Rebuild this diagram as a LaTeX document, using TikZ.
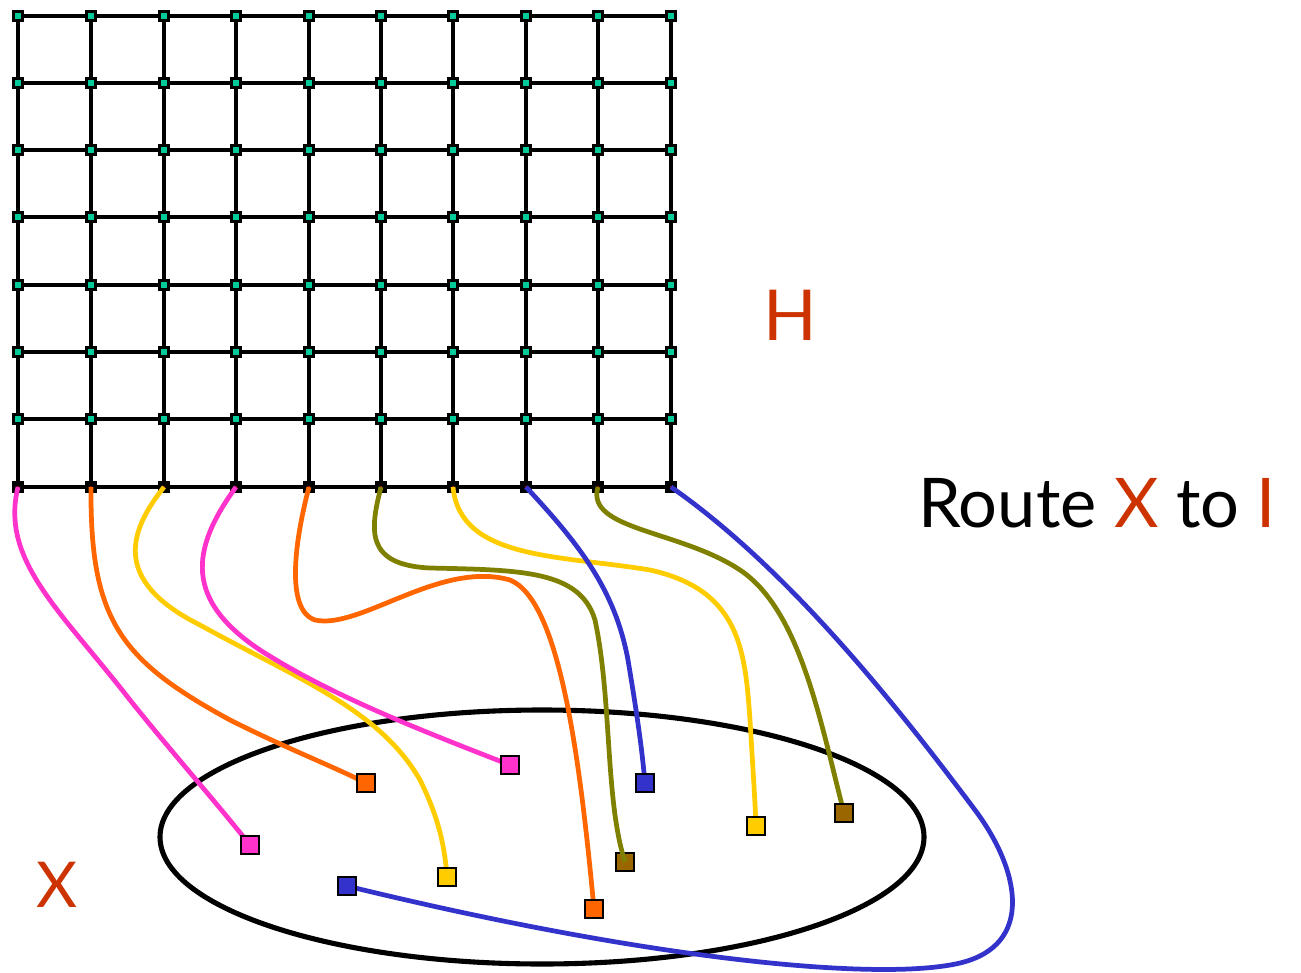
\documentclass[tikz,border=0pt]{standalone}
\usepackage{fontspec}
\setmainfont{Lato}
\definecolor{vtxfill}{HTML}{00CC99}
\definecolor{lblred}{HTML}{CC3300}
\definecolor{wpink}{HTML}{FF33CC}
\definecolor{worange}{HTML}{FF6600}
\definecolor{wyellow}{HTML}{FFCC00}
\definecolor{wolive}{HTML}{808000}
\definecolor{wblue}{HTML}{3333CC}
\definecolor{tbrown}{HTML}{996600}
\tikzset{
  gridline/.style={line width=2.1pt, black},
  vtx/.style={draw=black, line width=1.8pt, fill=vtxfill, inner sep=0pt, minimum size=0.19cm},
  port/.style={draw=black, line width=1.8pt, fill=black, inner sep=0pt, minimum size=0.19cm},
  wire/.style={line width=2.7pt},
  term/.style={draw=black, line width=1.2pt, inner sep=0pt, minimum size=0.36cm},
  lbl/.style={text=lblred, font=\fontsize{40}{40}\selectfont},
}
\begin{document}
\begin{tikzpicture}[x=0.02cm,y=-0.02cm]
\useasboundingbox (0,0) rectangle (1301,973);

% grid positions
\foreach \x [count=\i] in {18,91,164,236,309,381,453,526,598,671}
  \foreach \y [count=\j] in {16,83,150,217,285,352,419,487}
    \coordinate (p-\i-\j) at (\x,\y);

% grid edges
\foreach \i in {1,...,10} \draw[gridline] (p-\i-1) -- (p-\i-8);
\foreach \j in {1,...,8} \draw[gridline] (p-1-\j) -- (p-10-\j);

% grid vertices
\foreach \i in {1,...,10}
  \foreach \j in {1,...,7}
    \node[vtx] (g-\i-\j) at (p-\i-\j) {};
\foreach \i in {1,...,10} {
  \node[port] (g-\i-8) at (p-\i-8) {};
  \fill[red] (g-\i-8.center) circle (0.02cm);
}

% the set X
\draw[line width=2.9pt] (542,837) ellipse [x radius=382, y radius=127];

% routing paths
\draw[wire, wpink] (g-1-8.center) .. controls (0,560) and (60,610) .. (130,700)
  .. controls (170,750) and (210,795) .. (250,845) coordinate (e1);
\draw[wire, worange] (g-2-8.center) .. controls (90,620) and (120,660) .. (230,720)
  .. controls (290,750) and (330,765) .. (366,783) coordinate (e2);
\draw[wire, wyellow] (g-3-8.center) .. controls (130,530) and (110,580) .. (200,625)
  .. controls (300,680) and (380,710) .. (420,780) .. controls (440,820) and (445,850) .. (447,877) coordinate (e3);
\draw[wire, wpink] (g-4-8.center) .. controls (190,550) and (185,600) .. (260,650)
  .. controls (330,695) and (420,730) .. (510,765) coordinate (e4);
\draw[wire, worange] (g-5-8.center) .. controls (295,540) and (285,610) .. (315,620)
  .. controls (360,630) and (440,560) .. (510,580) .. controls (560,600) and (580,760) .. (594,909) coordinate (e5);
\draw[wire, wyellow] (g-7-8.center) .. controls (460,560) and (560,555) .. (650,570)
  .. controls (740,590) and (745,650) .. (750,720) .. controls (753,770) and (755,800) .. (756,826) coordinate (e7);
\draw[wire, wblue] (g-8-8.center) .. controls (580,545) and (615,590) .. (628,660)
  .. controls (638,720) and (642,750) .. (645,783) coordinate (e8);
\draw[wire, wolive] (g-9-8.center) .. controls (585,530) and (680,530) .. (740,570)
  .. controls (800,610) and (820,720) .. (844,813) coordinate (e9);
\draw[wire, wblue] (g-10-8.center) .. controls (790,570) and (900,710) .. (975,810)
  .. controls (1020,870) and (1035,945) .. (960,963) .. controls (880,982) and (650,960) .. (347,886) coordinate (e10);

% terminals of X
\node[term, fill=wpink]   (t1) at (e1) {};
\node[term, fill=worange] (t2) at (e2) {};
\node[term, fill=wyellow] (t3) at (e3) {};
\node[term, fill=wpink]   (t4) at (e4) {};
\node[term, fill=worange] (t5) at (e5) {};
\node[term, fill=tbrown]  (t6) at (625,862) {};
\node[term, fill=wyellow] (t7) at (e7) {};
\node[term, fill=wblue]   (t8) at (e8) {};
\node[term, fill=tbrown]  (t9) at (e9) {};
\node[term, fill=wblue]   (t10) at (e10) {};

% this path ends on top of its terminal
\draw[wire, wolive] (g-6-8.center) .. controls (370,530) and (365,565) .. (430,568)
  .. controls (520,570) and (580,570) .. (595,620) .. controls (612,700) and (605,800) .. (t6.center);

% labels
\node[lbl] (hl) at (790,315) {H};
\node[font=\fontsize{39}{39}\selectfont, anchor=west] (route) at (912,503)
  {Route \textcolor{lblred}{X} to \textcolor{lblred}{I}};
\node[lbl, font=\fontsize{36}{36}\selectfont] (xl) at (57,885) {X};
\end{tikzpicture}
\end{document}
